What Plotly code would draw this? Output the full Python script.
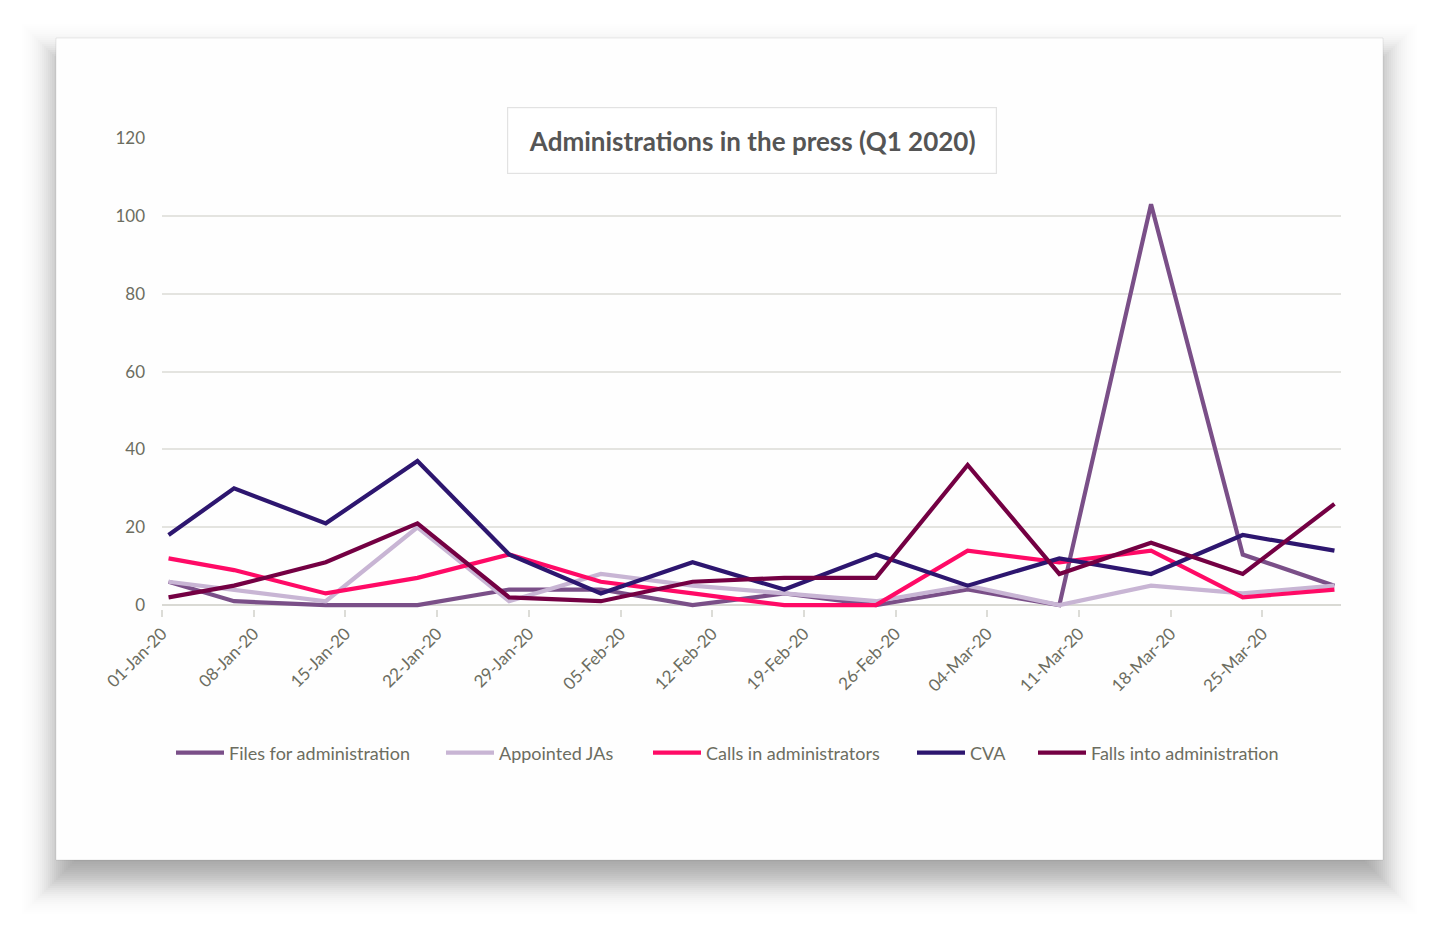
import math
import pandas as pd
import plotly.graph_objects as go

# DATOS (lectura aproximada del gráfico original)
fechas = ["2020-01-01", "2020-01-06", "2020-01-13", "2020-01-20", "2020-01-27",
          "2020-02-03", "2020-02-10", "2020-02-17", "2020-02-24", "2020-03-02",
          "2020-03-09", "2020-03-16", "2020-03-23", "2020-03-30"]

files_for_admin = [6, 1, 0, 0, 4, 4, 0, 3, 0, 4, 0, 103, 13, 5]
appointed_jas = [6, 4, 1, 20, 1, 8, 5, 3, 1, 5, 0, 5, 3, 5]
calls_in_admins = [12, 9, 3, 7, 13, 6, 3, 0, 0, 14, 11, 14, 2, 4]
cva = [18, 30, 21, 37, 13, 3, 11, 4, 13, 5, 12, 8, 18, 14]
falls_into_admin = [2, 5, 11, 21, 2, 1, 6, 7, 7, 36, 8, 16, 8, 26]

series = [
    ("Files for administration", files_for_admin, "#7a4f88"),
    ("Appointed JAs", appointed_jas, "#c8b5d4"),
    ("Calls in administrators", calls_in_admins, "#ff0a66"),
    ("CVA", cva, "#2d166f"),
    ("Falls into administration", falls_into_admin, "#740043"),
]

# los puntos caen a mitad de día, como en el gráfico de Excel
x = pd.to_datetime(fechas) + pd.Timedelta(hours=12)

# la página tiene 8px de margen en el body
OFF = 8
W, H = 1439 - 2 * OFF, 934 - 2 * OFF
PL, PR, PT, PB = 162, 1341, 138, 609   # área de trazado en px de página
L, R, T, B = PL - OFF, W - (PR - OFF), PT - OFF, H - (PB - OFF)
gris_texto = "#6c6d60"


def px_x(p):
    return (p - PL) / (PR - PL)


def px_y(p):
    return (PB - p) / (PB - PT)


fig = go.Figure()
pos_leyenda = [173, 443, 650, 914, 1035]
for i, (nombre, valores, color) in enumerate(series):
    ley = "legend" if i == 0 else "legend%d" % (i + 1)
    fig.add_trace(go.Scatter(x=x, y=valores, mode="lines", name=nombre, legend=ley,
                             line=dict(color=color, width=4.2)))

# tarjeta con sombra suave (capas con opacidad gaussiana)
formas = []
for d in range(46, -48, -2):
    alfa = 0.021 * math.exp(-d * d / (2 * 16.0 ** 2))
    formas.append(dict(type="rect", xref="paper", yref="paper", layer="below",
                       x0=px_x(56 - d), x1=px_x(1383 + d),
                       y0=px_y(860 + 20 + d), y1=px_y(38 + 20 - d),
                       line=dict(width=0), fillcolor="rgba(0,0,0,%.4f)" % alfa))
formas.append(dict(type="rect", xref="paper", yref="paper", layer="below",
                   x0=px_x(56), x1=px_x(1383), y0=px_y(860), y1=px_y(38),
                   line=dict(width=1, color="rgba(0,0,0,0.08)"), fillcolor="#fefefe"))

leyendas = {}
for i, p in enumerate(pos_leyenda):
    clave = "legend" if i == 0 else "legend%d" % (i + 1)
    leyendas[clave] = dict(orientation="h", x=px_x(p - 2), xanchor="left",
                           y=px_y(753), yanchor="middle", itemwidth=48,
                           font=dict(size=18, color=gris_texto),
                           bgcolor="rgba(0,0,0,0)", borderwidth=0)

fig.update_layout(
    width=W, height=H,
    margin=dict(l=L, r=R, t=T, b=B),
    paper_bgcolor="white",
    plot_bgcolor="rgba(0,0,0,0)",
    font=dict(family="Lato, Open Sans, sans-serif", color=gris_texto, size=17),
    shapes=formas,
    showlegend=True,
    annotations=[dict(text="<b>Administrations in the press (Q1 2020)</b>",
                      xref="paper", yref="paper", x=px_x(752), y=px_y(140),
                      xanchor="center", yanchor="middle", showarrow=False,
                      font=dict(size=26, color="#555555"),
                      bgcolor="white", bordercolor="#e2e2e2", borderwidth=1.2,
                      width=452, height=29, borderpad=18)],
    **leyendas,
)

fig.update_xaxes(
    type="date",
    range=["2020-01-01", "2020-03-31"],
    tick0="2020-01-01", dtick=7 * 86400000,
    tickformat="%d-%b-%y", tickangle=-45,
    showgrid=False, showline=False, zeroline=False,
    ticks="outside", ticklen=7, tickwidth=1.5, tickcolor="#dcdcd7",
    tickfont=dict(size=17, color=gris_texto),
)
fig.update_yaxes(
    range=[-1, 120], tickvals=[0, 20, 40, 60, 80, 100, 120],
    showgrid=True, gridcolor="#e4e4e0", gridwidth=1.5,
    zeroline=True, zerolinecolor="#d9d9d4", zerolinewidth=2,
    showline=False, ticklabelstandoff=16,
    tickfont=dict(size=17, color=gris_texto),
)

fig.write_html("out.html")
